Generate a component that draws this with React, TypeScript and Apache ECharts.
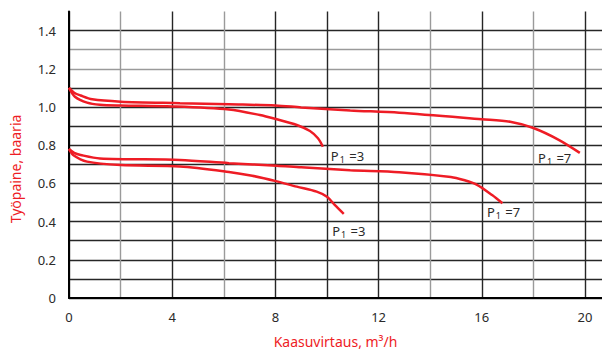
import React, { useEffect, useRef } from "react";
import * as echarts from "echarts";

const upper7X = [0, 0.2, 0.45, 0.9, 2, 4.3, 6.2, 8, 9, 10.9, 12.8, 16, 17.1, 18, 19, 19.8];
const upper7Y = [1.1, 1.075, 1.06, 1.04, 1.028, 1.02, 1.014, 1.008, 0.998, 0.982, 0.97, 0.936, 0.923, 0.89, 0.827, 0.76];

const upper3X = [0, 0.23, 0.7, 1.2, 2, 4, 6.2, 7.4, 8.02, 8.83, 9.34, 9.65, 9.84];
const upper3Y = [1.1, 1.054, 1.023, 1.012, 1.008, 1.003, 0.987, 0.958, 0.937, 0.906, 0.874, 0.836, 0.792];

const lower7X = [0, 0.2, 0.45, 1.2, 4.3, 6.2, 8.05, 9, 10.9, 12.8, 14.8, 15.3, 15.8, 16.4, 16.8];
const lower7Y = [0.78, 0.76, 0.749, 0.731, 0.723, 0.706, 0.693, 0.684, 0.669, 0.659, 0.634, 0.618, 0.594, 0.539, 0.496];

const lower3X = [0, 0.16, 0.7, 2, 4.3, 6.2, 7.1, 8.02, 8.83, 9.6, 10.0, 10.3, 10.65];
const lower3Y = [0.78, 0.749, 0.714, 0.696, 0.689, 0.66, 0.64, 0.612, 0.583, 0.557, 0.53, 0.487, 0.44];

// label anchors (data units) and texts
const labelAnchors: [number, number, string][] = [
  [10.15, 0.743, "3"],
  [18.18, 0.733, "7"],
  [16.2, 0.45, "7"],
  [10.2, 0.35, "3"],
];

const xTicks = [0, 4, 8, 12, 16, 20];
const yLabels = [0, 0.2, 0.4, 0.6, 0.8, 1.0, 1.2, 1.4];

const RED = "#ee1c25";
const TXT = "#2a2a2a";
const FONT = "'Noto Sans', sans-serif";

const zip = (xs: number[], ys: number[]) => xs.map((x, i) => [x, ys[i]]);

export default function App() {
  const ref = useRef<HTMLDivElement>(null);
  useEffect(() => {
    document.body.style.margin = "0";
    if (!ref.current) return;
    const chart = echarts.init(ref.current, null, { renderer: "svg" });
    const dk = "#262626";
    const gr = "#9a9a9a";
    const vColors = [dk, gr, dk, gr, dk, dk, dk, gr, dk, gr, dk, dk];
    const hColors = [dk, dk, dk, dk, dk, dk, dk, dk, dk, dk, dk, dk, gr, gr, dk, dk];
    const rich = {
      p: { fontSize: 13, color: TXT, fontFamily: FONT, lineHeight: 16 },
      s: { fontSize: 9, color: TXT, fontFamily: FONT, lineHeight: 14, verticalAlign: "bottom", padding: [4, 1, 0, 1] },
    };
    const lineSeries = (d: number[][], labels: [number, number, string][]) => ({
      type: "line",
      data: d,
      smooth: 0.3,
      showSymbol: false,
      lineStyle: { color: RED, width: 2.5 },
      z: 5,
      markPoint: {
        symbol: "circle",
        symbolSize: 0,
        data: labels.map((l) => ({ coord: [l[0], l[1]], value: l[2] })),
        label: {
          show: true,
          position: "right",
          distance: 0,
          formatter: (p: any) => `{p|P}{s|1}{p| =${p.value}}`,
          rich,
        },
      },
    });
    chart.setOption({
      animation: false,
      grid: { left: 69, right: 0, top: 11.5, bottom: 55, containLabel: false, outerBoundsMode: "none" },
      xAxis: {
        type: "value",
        min: 0,
        max: 20.66,
        interval: 2,
        name: "Kaasuvirtaus, m³/h",
        nameLocation: "middle",
        nameGap: 36,
        nameTextStyle: { color: RED, fontSize: 14, fontFamily: FONT },
        axisLine: { show: true, lineStyle: { color: "#000", width: 2 } },
        axisTick: { show: false },
        axisLabel: {
          color: TXT,
          fontSize: 13,
          fontFamily: FONT,
          margin: 12,
          formatter: (v: number) => (xTicks.includes(Math.round(v * 1000) / 1000) ? String(v) : ""),
        },
        splitLine: { show: true, showMaxLine: false, lineStyle: { color: vColors, width: 1.4 } },
      },
      yAxis: {
        type: "value",
        min: 0,
        max: 1.5,
        interval: 0.1,
        axisLine: { show: true, lineStyle: { color: "#000", width: 2 } },
        axisTick: { show: false },
        axisLabel: {
          color: TXT,
          fontSize: 13,
          fontFamily: FONT,
          margin: 13,
          formatter: (v: number) => {
            const r = Math.round(v * 10) / 10;
            if (!yLabels.some((t) => Math.abs(t - r) < 1e-6) || Math.abs(v - r) > 1e-6) return "";
            return r === 0 ? "0" : r.toFixed(1);
          },
        },
        splitLine: { show: true, showMaxLine: false, lineStyle: { color: hColors, width: 1.4 } },
      },
      graphic: [
        {
          type: "text",
          x: 15,
          y: 169,
          rotation: Math.PI / 2,
          style: {
            text: "Työpaine, baaria",
            fill: RED,
            fontSize: 14,
            fontFamily: FONT,
            align: "center",
            verticalAlign: "middle",
          },
        },
      ],
      series: [
        lineSeries(zip(upper7X, upper7Y), [labelAnchors[1]]),
        lineSeries(zip(upper3X, upper3Y), [labelAnchors[0]]),
        lineSeries(zip(lower7X, lower7Y), [labelAnchors[2]]),
        lineSeries(zip(lower3X, lower3Y), [labelAnchors[3]]),
      ],
    });
    return () => chart.dispose();
  }, []);
  return <div ref={ref} style={{ width: 602, height: 353 }} />;
}
